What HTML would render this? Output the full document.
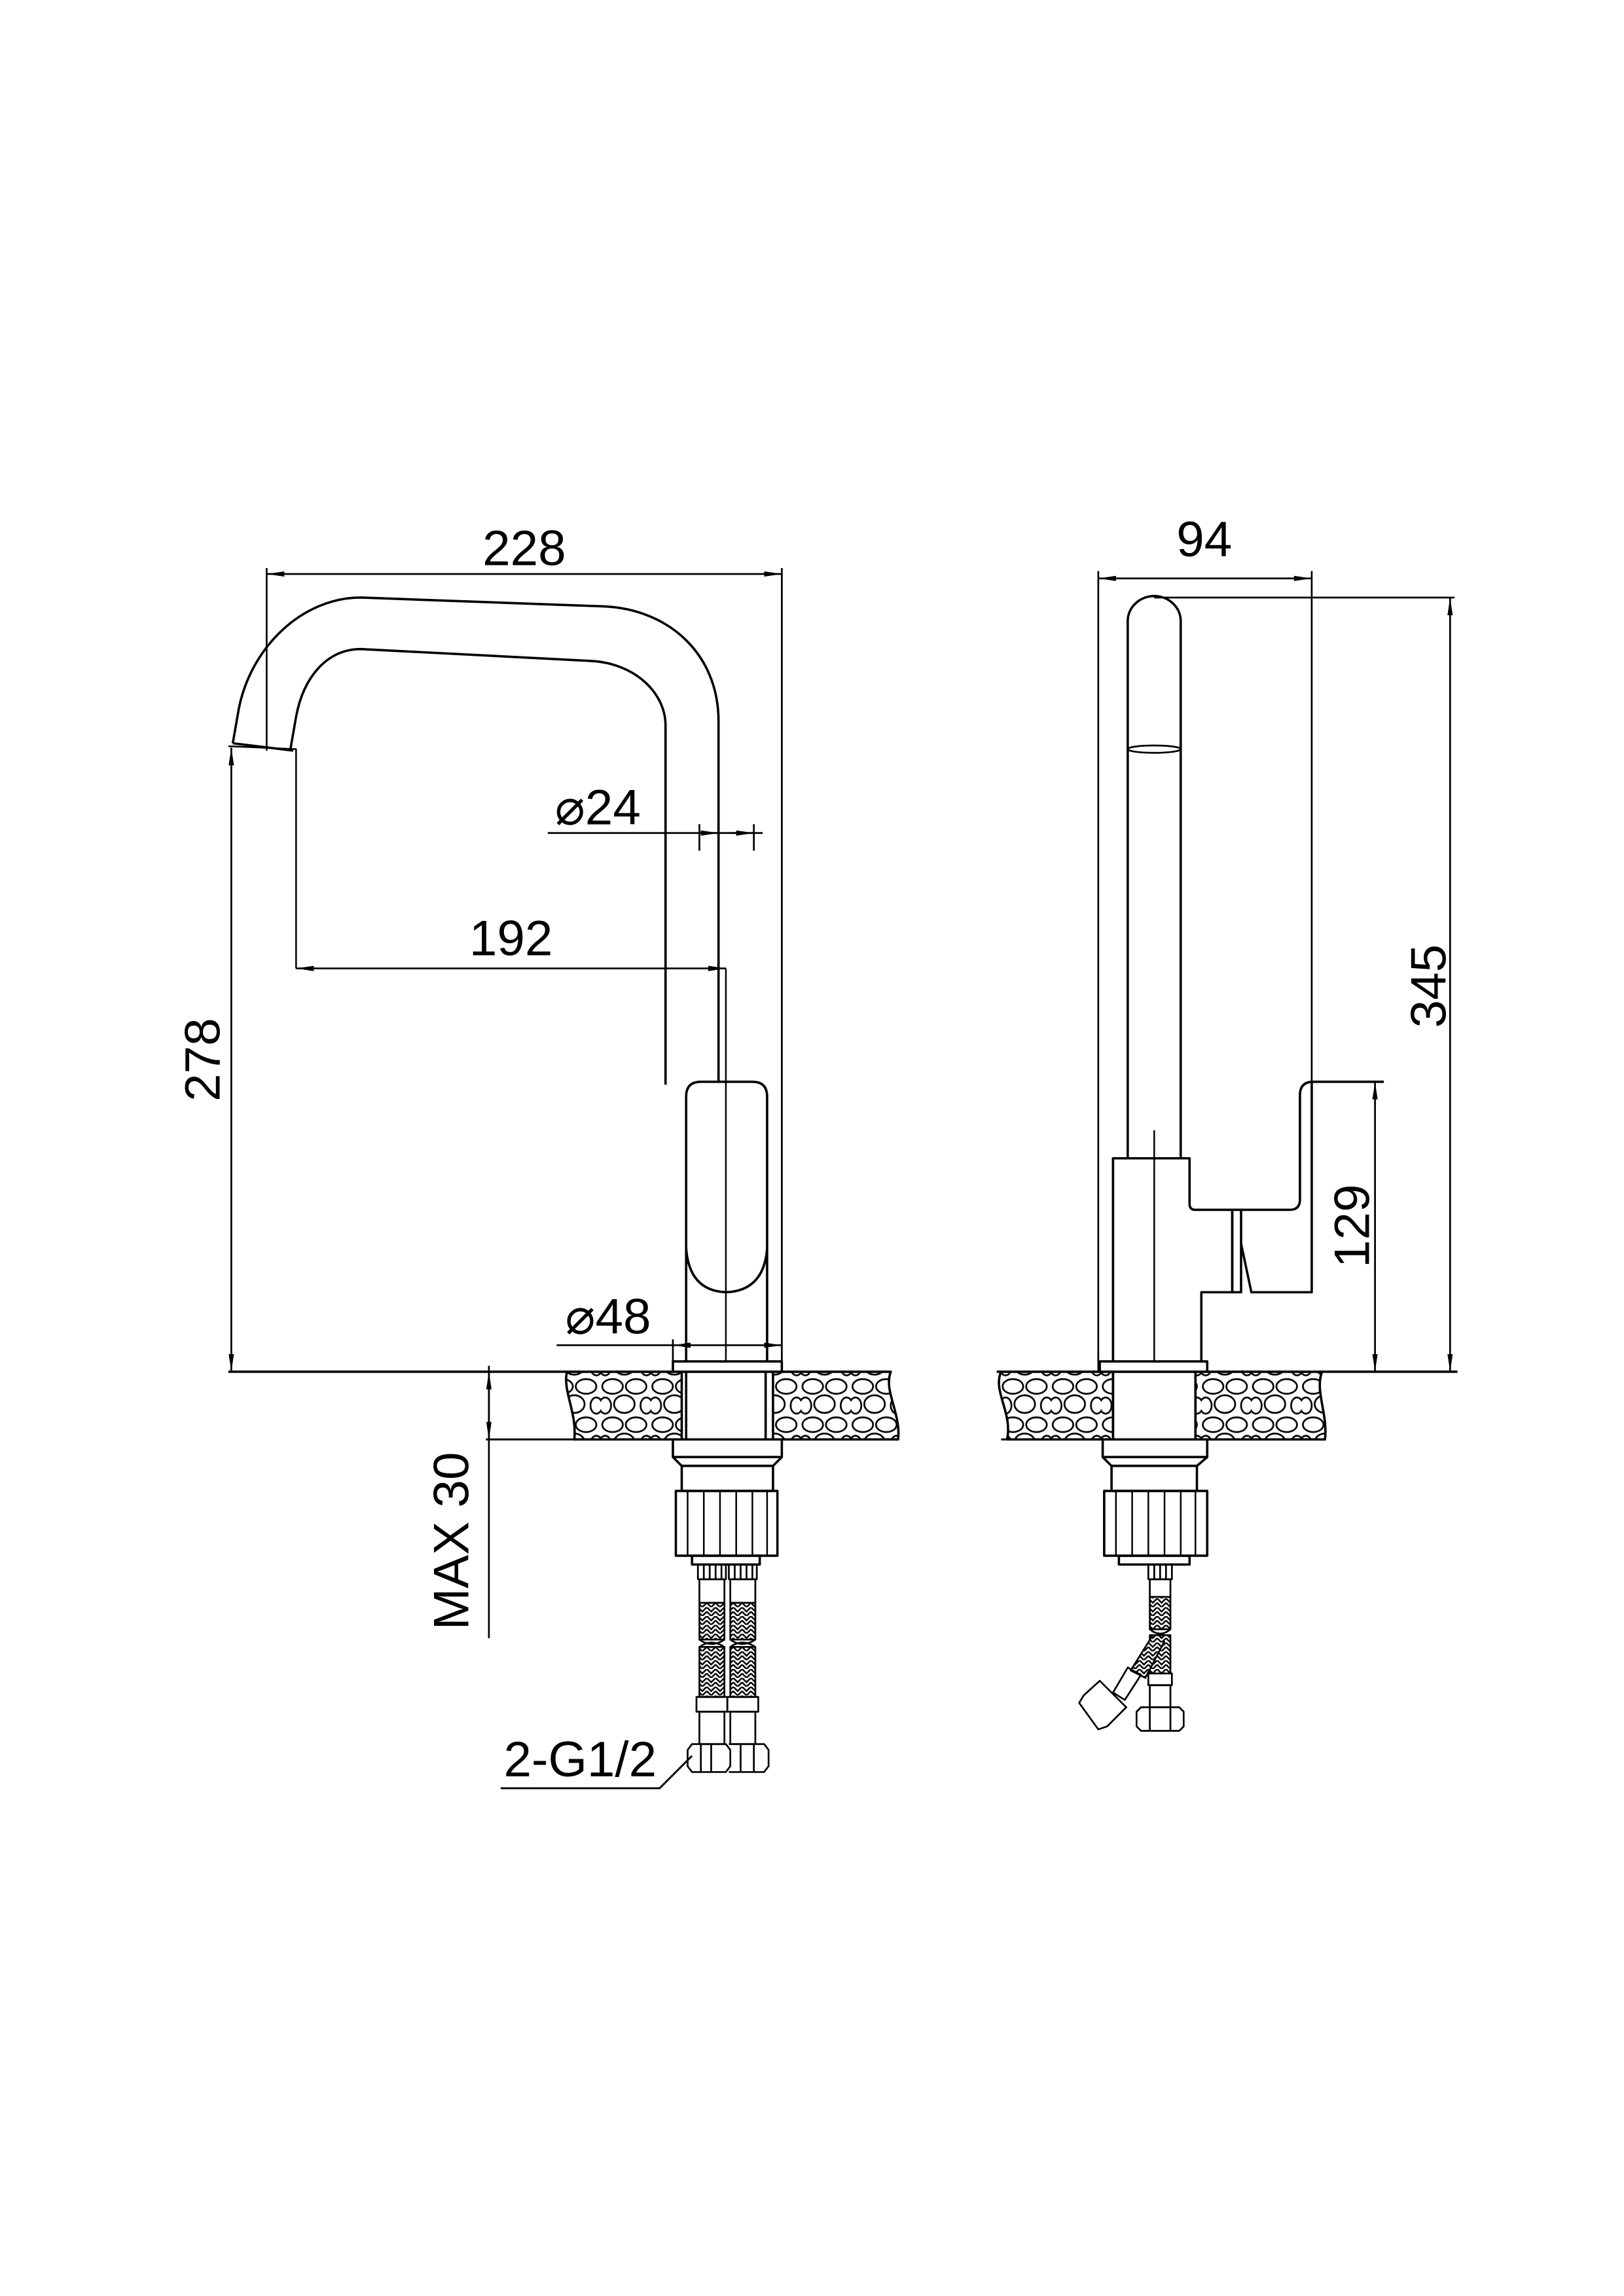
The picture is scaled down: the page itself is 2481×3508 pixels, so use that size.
<!DOCTYPE html>
<html><head><meta charset="utf-8"><style>html,body{margin:0;padding:0;background:#fff}svg{display:block}</style></head>
<body>
<svg width="2481" height="3508" viewBox="0 0 1103 1560" xmlns="http://www.w3.org/2000/svg">
<defs>
<pattern id="stone" width="34" height="26" patternUnits="userSpaceOnUse">
<rect width="34" height="26" fill="#fff"/>
<g fill="none" stroke="#000" stroke-width="1.2">
<ellipse cx="8" cy="6" rx="7" ry="5"/><ellipse cx="24" cy="6" rx="7" ry="5"/>
<ellipse cx="16" cy="18" rx="7" ry="6"/><ellipse cx="31" cy="19" rx="4" ry="5.5"/><ellipse cx="3" cy="19" rx="4" ry="5.5"/>
</g></pattern>
<marker id="a" viewBox="0 0 12 6" refX="12" refY="3" markerWidth="12" markerHeight="6" orient="auto-start-reverse" markerUnits="userSpaceOnUse"><path d="M0,1.2 L12,3 L0,4.8z" fill="#000"/></marker>
<pattern id="braid" width="6" height="6" patternUnits="userSpaceOnUse"><rect width="6" height="6" fill="#fff"/><path d="M0,0 L3,3 L6,0 M0,3 L3,6 L6,3" stroke="#000" stroke-width="1.1" fill="none"/></pattern>
</defs>
<g fill="none" stroke="#000" stroke-width="1.6" stroke-linejoin="round">
<path d="M158,505 L162,482 C170,440 205,406 245,406 L410,412 C455,414 488,445 488,490 L488,735"/>
<path d="M197,510 L201,487 C206,460 222,441 245,441 L400,449 C430,450 452,470 452,493 L452,737"/>
<path d="M158,505 L199,510" />
<path d="M155,507 L201,509 L201,658" stroke-width="1.1"/>
<path d="M466,925 L466,745 Q466,735 476,735 L511,735 Q521,735 521,745 L521,925"/>
<path d="M466,848 Q468,877 493,878 Q519,877 521,848" />
<path d="M493,658 L493,925" stroke-width="1.1"/>
<rect x="457" y="925" width="74" height="7"/>
<path d="M385,932 C382,945 392,960 390,978 L463,978 L463,932 Z" fill="url(#stone)"/>
<path d="M525,932 L605,932 C600,945 612,960 610,978 L525,978 Z" fill="url(#stone)"/>
<path d="M466,932 L466,978 M520,932 L520,978"/>
<path d="M155,932 L605,932" />
<path d="M330,978 L610,978" stroke-width="1.3"/>
<rect x="457" y="978" width="74" height="12"/>
<path d="M457,990 L463,996 L525,996 L531,990"/>
<rect x="463" y="996" width="62" height="17"/>
<rect x="459" y="1013" width="69" height="44"/>
<path d="M467,1013 V1057 M478,1013 V1057 M489,1013 V1057 M500,1013 V1057 M511,1013 V1057 M521,1013 V1057" stroke-width="1.1"/>
<rect x="470" y="1057" width="46" height="6"/>
<g stroke-width="1.2">
<rect x="474" y="1063" width="19" height="10"/><rect x="495" y="1063" width="19" height="10"/>
<path d="M478,1063 V1073 M482,1063 V1073 M486,1063 V1073 M490,1063 V1073 M499,1063 V1073 M503,1063 V1073 M507,1063 V1073 M511,1063 V1073"/>
<rect x="475" y="1073" width="17" height="16"/><rect x="496" y="1073" width="17" height="16"/>
<rect x="475" y="1089" width="17" height="25" fill="url(#braid)"/><rect x="496" y="1089" width="17" height="25" fill="url(#braid)"/>
<path d="M475,1114 Q483,1120 492,1114 M496,1114 Q504,1120 513,1114"/>
<rect x="475" y="1119" width="17" height="34" fill="url(#braid)"/><rect x="496" y="1119" width="17" height="34" fill="url(#braid)"/>
<path d="M475,1119 Q483,1113 492,1119 M496,1119 Q504,1113 513,1119"/>
<rect x="473" y="1153" width="21" height="10"/><rect x="494" y="1153" width="21" height="10"/>
<rect x="475" y="1163" width="17" height="22"/><rect x="496" y="1163" width="17" height="22"/>
<path d="M470,1185 L493,1185 L496,1189 L496,1200 L493,1204 L470,1204 L467,1200 L467,1189 Z"/>
<path d="M495,1185 L519,1185 L522,1189 L522,1200 L519,1204 L495,1204"/>
<path d="M476,1185 V1204 M483,1185 V1204 M503,1185 V1204 M512,1185 V1204"/>
</g>
<path d="M340,1215 L448,1215 L470,1193" stroke-width="1.3"/>
<g stroke-width="1.2">
<path d="M181,386 L181,510 M531,386 L531,932"/>
<path d="M181,390 L531,390" marker-start="url(#a)" marker-end="url(#a)"/>
<path d="M157,508 L157,932" marker-start="url(#a)" marker-end="url(#a)"/>
<path d="M201,658 L493,658" marker-start="url(#a)" marker-end="url(#a)"/>
<path d="M372,566 L518,566 M475,560 V578 M512,560 V578"/>
<path d="M476,566 L488,566" marker-end="url(#a)"/>
<path d="M496,566 L512,566" marker-end="url(#a)"/>
<path d="M378,914 L457,914 M457,910 V932"/>
<path d="M457,914 L531,914" marker-start="url(#a)" marker-end="url(#a)"/>
<path d="M332,932 L332,978" marker-start="url(#a)" marker-end="url(#a)"/>
<path d="M332,928 L332,1113"/>
</g>
<path d="M766,787 L766,422 A18,17 0 0 1 802,422 L802,787"/>
<ellipse cx="784" cy="509" rx="18" ry="2.5" stroke-width="1.2"/>
<path d="M784,406 L988,406" stroke-width="1.2"/>
<path d="M756,925 L756,787 L808,787 L808,818 Q808,822 812,822 L837,822 L837,878 L816,878 Q816,882 816,885 L816,925"/>
<rect x="837" y="822" width="6" height="56"/>
<path d="M843,822 L876,822 Q883,822 883,815 L883,744 Q883,735 892,735 L940,735"/>
<path d="M843,845 L850,878 L891,878 L891,735"/>
<path d="M784,768 L784,925" stroke-width="1.1"/>
<rect x="747" y="925" width="73" height="7"/>
<path d="M680,932 C674,945 688,960 684,978 L756,978 L756,932 Z" fill="url(#stone)"/>
<path d="M812,932 L898,932 C893,945 902,960 900,978 L812,978 Z" fill="url(#stone)"/>
<path d="M756,932 L756,978 M812,932 L812,978"/>
<path d="M677,932 L990,932"/>
<path d="M680,978 L900,978" stroke-width="1.3"/>
<rect x="749" y="978" width="71" height="12"/>
<path d="M749,990 L755,996 L813,996 L820,990"/>
<rect x="755" y="996" width="58" height="17"/>
<rect x="750" y="1013" width="70" height="44"/>
<path d="M758,1013 V1057 M769,1013 V1057 M780,1013 V1057 M791,1013 V1057 M802,1013 V1057 M812,1013 V1057" stroke-width="1.1"/>
<rect x="760" y="1057" width="48" height="6"/>
<g stroke-width="1.2">
<rect x="780" y="1063" width="16" height="10"/>
<path d="M784,1063 V1073 M788,1063 V1073 M792,1063 V1073"/>
<rect x="781" y="1073" width="14" height="12"/>
<rect x="781" y="1085" width="14" height="22" fill="url(#braid)"/>
<path d="M781,1107 Q788,1113 795,1107"/>
<rect x="781" y="1111" width="14" height="26" fill="url(#braid)"/>
<rect x="780" y="1137" width="16" height="8"/>
<rect x="781" y="1145" width="14" height="15"/>
<path d="M775,1160 L801,1160 L804,1163 L804,1173 L801,1176 L775,1176 L772,1173 L772,1163 Z"/>
<path d="M781,1160 V1176 M795,1160 V1176"/>
<path d="M783,1111 L768,1135 L778,1140 L791,1115" fill="url(#braid)"/>
<path d="M766,1133 L756,1150 L764,1155 L775,1138 Z"/>
<path d="M747,1142 L736,1152 L733,1157 L746,1175 L752,1173 L765,1160 Z"/>
</g>
<g stroke-width="1.2">
<path d="M746,388 L746,932 M891,388 L891,735"/>
<path d="M746,393 L891,393" marker-start="url(#a)" marker-end="url(#a)"/>
<path d="M985,406 L985,932" marker-start="url(#a)" marker-end="url(#a)"/>
<path d="M934,735 L934,932" marker-start="url(#a)" marker-end="url(#a)"/>
</g>
</g>
<g font-family="Liberation Sans, sans-serif" font-size="34" fill="#000" text-anchor="middle">
<text x="356" y="384">228</text>
<text x="818" y="378">94</text>
<text x="406" y="560">⌀24</text>
<text x="347" y="649">192</text>
<text x="413" y="906">⌀48</text>
<text x="394" y="1207">2-G1/2</text>
<text transform="translate(149,720) rotate(-90)">278</text>
<text transform="translate(318,1047) rotate(-90)">MAX 30</text>
<text transform="translate(982,670) rotate(-90)">345</text>
<text transform="translate(930,833) rotate(-90)">129</text>
</g>
</svg>
</body></html>
